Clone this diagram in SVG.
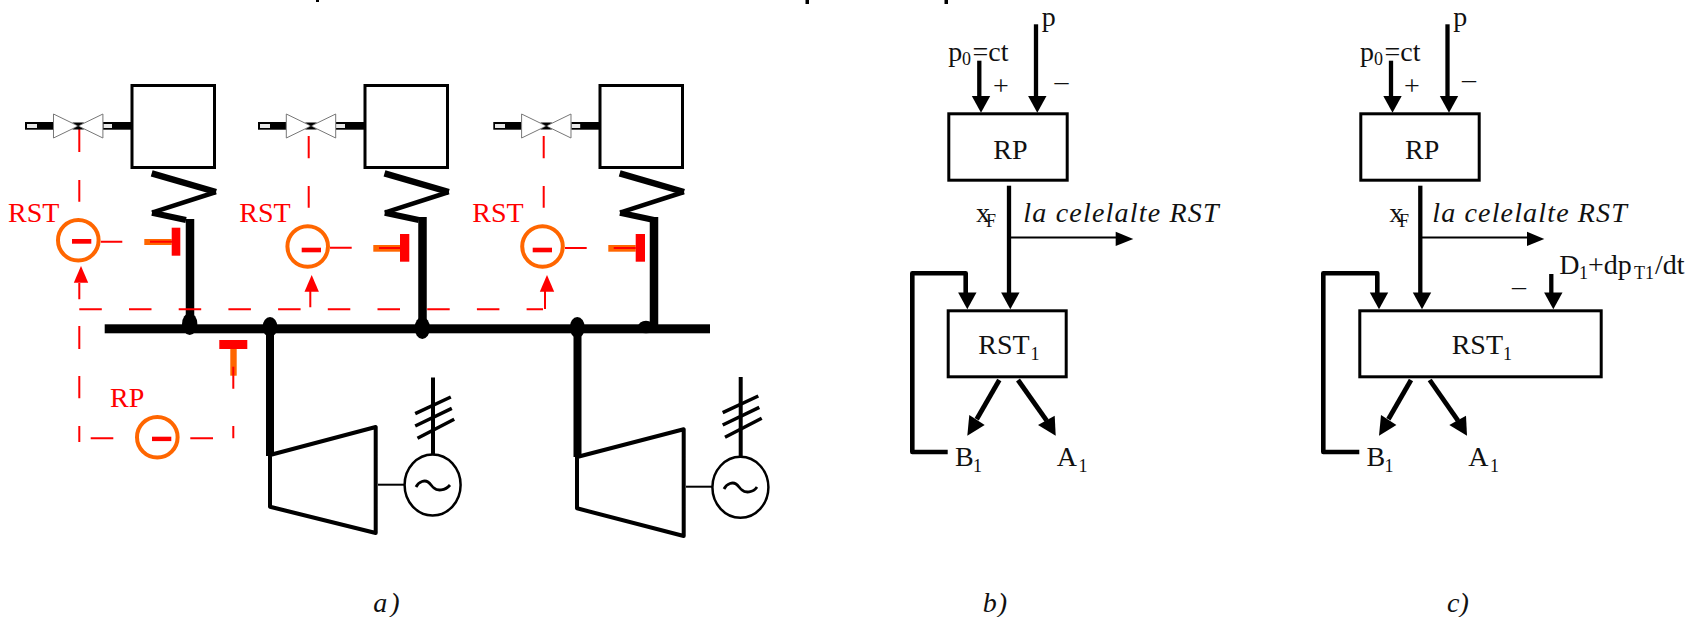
<svg xmlns="http://www.w3.org/2000/svg" width="1693" height="617" viewBox="0 0 1693 617">
<style>
text{font-family:"Liberation Serif","Times New Roman",serif;font-size:28px;fill:#111}
.r{fill:#f00}
.sub{font-size:18px}
.it{font-style:italic}
.box{fill:#fff;stroke:#000;stroke-width:3}
.b{fill:none;stroke:#000;stroke-linejoin:round}
.k{fill:#000}
.red{fill:#f00}
.org{fill:#f60}
.rl{fill:none;stroke:#f00;stroke-width:2}
.circ{fill:#fff;stroke:#f60;stroke-width:4}
.gen{fill:#fff;stroke:#000;stroke-width:2.5}
.valve{fill:#fff;stroke:#777;stroke-width:1}
.slot{fill:#e8e8e8}
</style>
<defs>
<polygon id="h" points="-9.2,-16.7 9.2,-16.7 0,0" fill="#000"/>
<polygon id="ru" points="-7.2,16.7 7.2,16.7 0,0" fill="#f00"/>
<g id="valve">
<polygon class="valve" points="-24.7,-12 -24.7,12 0,0"/>
<polygon class="valve" points="24.7,-12 24.7,12 0,0"/>
<polygon class="k" points="-6,-3.5 6,-3.5 0,0 6,3.5 -6,3.5 0,0"/>
</g>
<g id="zig">
<path class="b" d="M151.7,173.3 L216,192" stroke-width="6.5"/>
<path class="b" d="M216,192 L152,212.7" stroke-width="4.5"/>
<path class="b" d="M152,212.7 L186,220" stroke-width="6"/>
</g>
</defs>
<rect width="1693" height="617" fill="#fff"/>

<g id="cut-marks">
<rect class="k" x="316" y="0" width="3" height="2"/>
<rect class="k" x="805.5" y="0" width="3.5" height="4"/>
<rect class="k" x="944.5" y="0" width="3.5" height="4"/>
</g>

<g id="connectors">
<rect class="k" x="25" y="122" width="28.3" height="7.7"/><rect class="slot" x="27" y="124" width="10" height="4"/>
<rect class="k" x="103" y="122" width="28" height="7.7"/><rect class="slot" x="103.5" y="124" width="8.5" height="4"/>
<rect class="k" x="258" y="122" width="28.3" height="7.7"/><rect class="slot" x="260" y="124" width="10" height="4"/>
<rect class="k" x="335.7" y="122" width="28.3" height="7.7"/><rect class="slot" x="336" y="124" width="9" height="4"/>
<rect class="k" x="493.3" y="122" width="28" height="7.7"/><rect class="slot" x="495" y="124" width="10" height="4"/>
<rect class="k" x="571.3" y="122" width="28" height="7.7"/><rect class="slot" x="571.7" y="124" width="8.5" height="4"/>
<use href="#zig"/>
<use href="#zig" x="232.8"/>
<use href="#zig" x="468"/>
<path class="b" d="M190,219V325" stroke-width="8.5"/>
<path class="b" d="M422.5,217V325" stroke-width="8.5"/>
<path class="b" d="M654,217V325" stroke-width="8.5"/>
<rect class="k" x="104.7" y="324.3" width="605.3" height="9"/>
<ellipse class="k" cx="189.7" cy="324" rx="7.7" ry="11"/>
<ellipse class="k" cx="270" cy="327" rx="7.5" ry="10"/>
<ellipse class="k" cx="422.3" cy="328" rx="7.7" ry="11"/>
<ellipse class="k" cx="577.3" cy="327.5" rx="7.5" ry="10.5"/>
<ellipse class="k" cx="646" cy="327" rx="8" ry="6.3"/>
<path class="b" d="M270,333V456" stroke-width="8"/>
<path class="b" d="M577.5,333V457" stroke-width="8"/>
<path class="b" d="M378,484.7H404" stroke-width="2"/>
<path class="b" d="M686,486.7H712" stroke-width="2"/>
<path class="b" d="M433,377.5V454" stroke-width="4"/>
<path class="b" d="M415.2,413.7L450.8,397M415.2,426L451.8,408.3M417.5,438.3L454.2,419.3" stroke-width="3.5"/>
<path class="b" d="M740.7,377V456" stroke-width="4"/>
<path class="b" d="M722.7,412.7L758.3,396M722.7,425L759.3,407.3M725,437.3L761.7,418.3" stroke-width="3.5"/>
<g class="rl">
<path d="M79.3,128V152M79.3,180V201.7"/>
<path d="M308.7,136V158.3M308.7,186V207.7"/>
<path d="M543.7,136V158.3M543.7,186V207.7"/>
<path d="M100.7,241.7H122.3M330,247.7H351.7M565,248H586.7"/>
<path d="M79.3,283V299.3M310.3,291V307.3M545,291V309"/>
<path d="M79.3,309.3H543" stroke-dasharray="22.5 27.2"/>
<path d="M79.3,326V349M79.3,376V398.3M79.3,426V442"/>
<path d="M90.7,438.3H113.3M190.3,438.3H213"/>
<path d="M233.3,438.3V426M233.3,388.7V366.7"/>
</g>
<use href="#ru" x="81" y="266"/>
<use href="#ru" x="311.7" y="275"/>
<use href="#ru" x="547" y="275"/>
<rect class="org" x="144.3" y="239" width="27.4" height="6"/><rect class="red" x="150" y="240.7" width="22" height="2"/><rect class="red" x="171.7" y="227.7" width="8.6" height="28"/>
<rect class="org" x="373.3" y="245" width="26.7" height="6.7"/><rect class="red" x="379" y="247" width="21" height="2"/><rect class="red" x="400" y="234" width="9.3" height="27.7"/>
<rect class="org" x="608.3" y="245" width="27.4" height="6.7"/><rect class="red" x="613.7" y="247" width="22" height="2"/><rect class="red" x="635.7" y="234" width="9.3" height="27.7"/>
<rect class="org" x="230.3" y="349" width="6.4" height="26.7"/><rect class="red" x="219.3" y="340" width="28" height="9"/>
<rect class="red" x="232.3" y="366.7" width="2" height="9"/>

<path class="b" d="M1036,24.3V97" stroke-width="4.3"/><use href="#h" x="1037.3" y="112.7"/>
<path class="b" d="M979.3,60.7V97" stroke-width="4.3"/><use href="#h" x="981" y="112.7"/>
<path class="b" d="M1009,185.7V293" stroke-width="4.3"/><use href="#h" x="1010.3" y="309.3"/>
<path class="b" d="M1009,237.5H1116" stroke-width="2"/><polygon class="k" points="1115.7,231.7 1133.3,239 1115.7,246"/>
<path class="b" d="M947.7,452H912.3V273.3H965.7V293" stroke-width="4.6"/><use href="#h" x="967.3" y="309.3"/>
<path class="b" d="M999.3,380L976.7,419.3" stroke-width="4.8"/><polygon class="k" points="967.3,435.7 984.7,425 969.3,415"/>
<path class="b" d="M1018,380L1046.7,420.7" stroke-width="4.8"/><polygon class="k" points="1055.7,435.7 1038,425 1054.7,415.7"/>

<path class="b" d="M1447.5,24.3V97" stroke-width="4.3"/><use href="#h" x="1449" y="112.7"/>
<path class="b" d="M1391,60.7V97" stroke-width="4.3"/><use href="#h" x="1392.5" y="112.7"/>
<path class="b" d="M1420.3,185.7V293" stroke-width="4.3"/><use href="#h" x="1422" y="309.3"/>
<path class="b" d="M1420.3,237.5H1527" stroke-width="2"/><polygon class="k" points="1527,231.7 1544.3,239 1527,246"/>
<path class="b" d="M1551.3,274V293" stroke-width="4.3"/><use href="#h" x="1553.3" y="309.3"/>
<path class="b" d="M1359.3,452H1323.3V273.3H1377.3V293" stroke-width="4.6"/><use href="#h" x="1379" y="309.3"/>
<path class="b" d="M1411,380L1388.4,419.3" stroke-width="4.8"/><polygon class="k" points="1379,435.7 1396.4,425 1381,415"/>
<path class="b" d="M1429.7,380L1458,420.7" stroke-width="4.8"/><polygon class="k" points="1467,435.7 1449.3,425 1466,415.7"/>
</g>

<g id="valve-1"><use href="#valve" x="78.2" y="126"/></g>
<g id="valve-2"><use href="#valve" x="311" y="126"/></g>
<g id="valve-3"><use href="#valve" x="546.3" y="126"/></g>
<g id="boiler-1"><rect class="box" x="132" y="85.5" width="82.5" height="82"/></g>
<g id="boiler-2"><rect class="box" x="365" y="85.5" width="82.5" height="82"/></g>
<g id="boiler-3"><rect class="box" x="600" y="85.5" width="82.5" height="82"/></g>

<g id="rst-a1"><circle class="circ" cx="78.3" cy="240.3" r="20.3"/><rect class="red" x="72" y="239" width="19.3" height="4.7"/><text class="r" x="8" y="221.7">RST</text></g>
<g id="rst-a2"><circle class="circ" cx="307.7" cy="246.5" r="20.3"/><rect class="red" x="301.7" y="247.7" width="19.3" height="4.6"/><text class="r" x="239.3" y="221.7">RST</text></g>
<g id="rst-a3"><circle class="circ" cx="542.5" cy="246.5" r="20.3"/><rect class="red" x="532.7" y="247.7" width="19.3" height="4.6"/><text class="r" x="472.3" y="221.7">RST</text></g>
<g id="rp-a"><circle class="circ" cx="157.3" cy="437.3" r="20.3"/><rect class="red" x="152" y="436.7" width="19.3" height="4.4"/><text class="r" x="110" y="406.7">RP</text></g>

<g id="turbine-1"><polygon class="b" stroke-width="4" points="270,455 375.7,427 375.7,533 270,506.7"/></g>
<g id="turbine-2"><polygon class="b" stroke-width="4" points="577,457 683.7,429.3 683.7,536 577,508.3"/></g>
<g id="generator-1"><ellipse class="gen" cx="432.6" cy="485" rx="28" ry="30.5"/><path class="b" stroke-width="2.8" d="M416,487 C419,481 425,480 428,482 C431,484 432,487 434,488 C437,491 445,491 450,485"/></g>
<g id="generator-2"><ellipse class="gen" cx="740.4" cy="487.3" rx="28" ry="30.5"/><path class="b" stroke-width="2.8" d="M724,489 C727,483 733,482 736,484 C739,486 740,489 742,490 C745,493 753,493 757,487"/></g>
<g id="label-a"><text class="it" x="373.3" y="612" letter-spacing="3">a)</text></g>

<g id="rp-b"><rect class="box" x="948.8" y="113.8" width="118.4" height="66.4"/><text x="993.3" y="159.3">RP</text></g>
<g id="rst-b"><rect class="box" x="948.2" y="310.8" width="118" height="66"/><text x="978.3" y="354">RST</text><text class="sub" x="1030.5" y="359.5">1</text></g>
<g id="labels-b">
<text x="1041.7" y="26">p</text>
<text x="948.3" y="60.7">p</text><text class="sub" x="962" y="65">0</text><text x="972.5" y="60.7">=ct</text>
<text x="993" y="94.5">+</text>
<text x="1054.5" y="90.3">–</text>
<text x="976" y="221.7">x</text><text class="sub" x="986" y="226.7">F</text>
<text class="it" x="1023.3" y="221.7" letter-spacing="1.2">la celelalte RST</text>
<text x="955" y="466">B</text><text class="sub" x="973" y="471.5">1</text>
<text x="1056.7" y="466">A</text><text class="sub" x="1078.5" y="471.5">1</text>
<text class="it" x="982.7" y="612" letter-spacing="1">b)</text>
</g>

<g id="rp-c"><rect class="box" x="1360.8" y="113.8" width="118.4" height="66.4"/><text x="1405" y="159.3">RP</text></g>
<g id="rst-c"><rect class="box" x="1359.8" y="310.8" width="241.4" height="66"/><text x="1451.7" y="354">RST</text><text class="sub" x="1503" y="359.5">1</text></g>
<g id="labels-c">
<text x="1453.3" y="26">p</text>
<text x="1360" y="60.7">p</text><text class="sub" x="1374" y="65">0</text><text x="1384.5" y="60.7">=ct</text>
<text x="1404" y="94.5">+</text>
<text x="1462" y="88.3">–</text>
<text x="1389.3" y="221.7">x</text><text class="sub" x="1399" y="226.7">F</text>
<text class="it" x="1432.3" y="221.7" letter-spacing="1.15">la celelalte RST</text>
<text x="1366.5" y="466">B</text><text class="sub" x="1384.5" y="471.5">1</text>
<text x="1468.3" y="466">A</text><text class="sub" x="1490" y="471.5">1</text>
<text x="1512" y="294.7">–</text>
<text x="1559.3" y="274">D</text><text class="sub" x="1579" y="278.5">1</text><text x="1588" y="274">+dp</text><text class="sub" x="1634" y="278.5">T1</text><text x="1655" y="274">/dt</text>
<text class="it" x="1447" y="612">c)</text>
</g>
</svg>
